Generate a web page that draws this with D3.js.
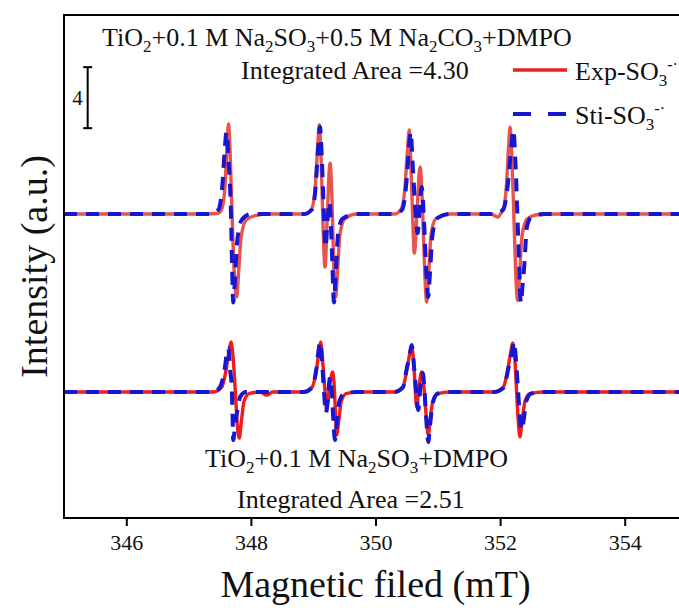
<!DOCTYPE html>
<html>
<head>
<meta charset="utf-8">
<script src="https://cdn.jsdelivr.net/npm/d3@7"></script>
<style>
  html, body { margin: 0; padding: 0; background: #fff; overflow: hidden; }
  text { font-family: 'Liberation Serif', 'Times New Roman', serif; fill: #111; }
</style>
</head>
<body>
<svg id="chart"></svg>
<script>
// [field (mT), intensity (a.u.)], each spectrum relative to its own baseline
const expTop = [
  [345.0, 0], [347.30, 0], [347.47, 0.05], [347.53, 0.3], [347.58, 1.6], [347.615, 4.3], [347.64, 5.9],
  [347.665, 4.2], [347.697, 0], [347.735, -4.0], [347.772, -5.45], [347.80, -4.0], [347.841, -1.6],
  [347.921, -0.4], [348.066, -0.1], [348.30, 0],
  [348.85, 0], [348.97, 0.3], [349.03, 1.6], [349.07, 4.3], [349.098, 5.85], [349.13, 3.2], [349.16, -1.0],
  [349.189, -3.48], [349.23, 0.3], [349.27, 3.34], [349.30, 1.2], [349.33, -3.5], [349.361, -5.45],
  [349.39, -3.8], [349.43, -1.3], [349.51, -0.3], [349.70, 0],
  [350.30, 0], [350.41, 0.3], [350.47, 1.6], [350.51, 4.0], [350.542, 5.51], [350.57, 3.0], [350.60, -0.6],
  [350.623, -2.56], [350.67, 0.4], [350.714, 3.08], [350.75, 1.0], [350.79, -3.8], [350.822, -5.77],
  [350.85, -4.2], [350.89, -1.4], [350.97, -0.3], [351.20, 0],
  [351.85, 0], [351.966, -0.2], [352.02, 0.1], [352.06, 0.4], [352.10, 1.8], [352.135, 4.3], [352.159, 5.7],
  [352.19, 3.6], [352.22, 0], [352.25, -3.8], [352.282, -5.65], [352.31, -4.2], [352.35, -1.5],
  [352.43, -0.35], [352.60, -0.05], [352.90, 0], [355.5, 0]
];
const stiTop = [
  [345.0, 0], [347.35, 0], [347.48, 0.3], [347.54, 1.8], [347.58, 4.2], [347.608, 5.38], [347.64, 3.6],
  [347.68, 0], [347.70, -3.8], [347.717, -5.8], [347.74, -4.6], [347.78, -1.8], [347.85, -0.4], [348.0, 0],
  [348.85, 0], [348.98, 0.3], [349.04, 1.8], [349.08, 4.4], [349.109, 5.7], [349.14, 3.5], [349.17, 0.2],
  [349.197, -2.2], [349.23, -0.4], [349.262, 0.8], [349.30, -2.4], [349.334, -5.8], [349.36, -4.0],
  [349.40, -1.3], [349.47, -0.3], [349.70, 0],
  [350.30, 0], [350.43, 0.3], [350.49, 1.8], [350.535, 4.2], [350.565, 5.38], [350.60, 3.0], [350.64, 0.3],
  [350.677, -1.25], [350.71, 0.6], [350.742, 1.77], [350.78, -0.6], [350.815, -3.8], [350.847, -5.44],
  [350.875, -3.8], [350.92, -1.2], [351.00, -0.25], [351.20, 0],
  [351.90, 0], [352.05, 0.3], [352.12, 1.8], [352.18, 4.4], [352.212, 5.51], [352.25, 3.0], [352.29, -1.5],
  [352.335, -5.84], [352.36, -4.7], [352.384, -3.6], [352.432, -0.8], [352.50, -0.2], [352.70, 0], [355.5, 0]
];
const expBottom = [
  [345.0, 0], [347.40, 0], [347.53, 0.3], [347.60, 1.4], [347.65, 2.7], [347.681, 3.28], [347.72, 2.0],
  [347.75, 0], [347.785, -2.3], [347.814, -3.02], [347.845, -2.0], [347.89, -0.6], [347.97, -0.1],
  [348.15, 0], [348.254, -0.2], [348.35, 0],
  [348.85, 0], [348.98, 0.3], [349.05, 1.4], [349.095, 2.7], [349.12, 3.28], [349.16, 1.6], [349.19, 0],
  [349.217, -1.18], [349.26, 0.3], [349.313, 1.31], [349.34, 0.2], [349.36, -1.6], [349.377, -2.82],
  [349.41, -1.9], [349.45, -0.6], [349.53, -0.1], [349.70, 0],
  [350.30, 0], [350.44, 0.3], [350.50, 1.4], [350.55, 2.5], [350.581, 2.95], [350.62, 1.5], [350.64, 0],
  [350.661, -0.98], [350.70, 0.4], [350.742, 1.31], [350.78, 0.2], [350.815, -1.6], [350.847, -2.82],
  [350.875, -1.9], [350.92, -0.6], [351.00, -0.1], [351.20, 0],
  [351.90, 0], [352.05, 0.3], [352.12, 1.4], [352.17, 2.6], [352.202, 3.21], [352.24, 2.0], [352.265, 0],
  [352.29, -1.8], [352.319, -2.95], [352.35, -2.0], [352.40, -0.6], [352.48, -0.1], [352.70, 0], [355.5, 0]
];
const stiBottom = [
  [345.0, 0], [347.40, 0], [347.50, 0.3], [347.584, 1.66], [347.615, 2.6], [347.637, 2.89], [347.665, 1.5],
  [347.692, 0.33], [347.705, -1.5], [347.717, -3.15], [347.745, -2.2], [347.785, -1.18], [347.83, -0.3],
  [347.92, 0], [348.35, 0],
  [348.85, 0], [348.98, 0.3], [349.05, 1.5], [349.085, 2.7], [349.109, 3.28], [349.15, 1.5], [349.18, -0.4],
  [349.205, -1.38], [349.24, -0.1], [349.27, 0.98], [349.30, 0.0], [349.325, -2.0], [349.35, -3.15],
  [349.38, -2.0], [349.42, -0.6], [349.50, -0.1], [349.70, 0],
  [350.30, 0], [350.44, 0.3], [350.50, 1.5], [350.555, 2.6], [350.581, 3.08], [350.62, 1.6], [350.655, 0],
  [350.687, -1.18], [350.72, 0.3], [350.758, 1.25], [350.79, -0.1], [350.815, -1.8], [350.847, -3.28],
  [350.875, -2.2], [350.92, -0.7], [351.00, -0.1], [351.20, 0],
  [351.90, 0], [352.06, 0.3], [352.13, 1.5], [352.195, 2.7], [352.223, 3.28], [352.26, 1.8], [352.29, 0],
  [352.32, -1.8], [352.347, -2.49], [352.38, -1.8], [352.42, -0.6], [352.50, -0.1], [352.70, 0], [355.5, 0]
];

const xTicks = [346, 348, 350, 352, 354];
const topOffset = 11.67;          // vertical shift of the upper spectrum
const scaleBar = [17.3, 21.3];    // 4 a.u. bar
const scaleBarField = 345.38;

const cfg = {
  width: 679,
  height: 608,
  left: 64,
  top: 15,
  right: 687,
  bottom: 518,
  expTopColor: '#e6544d',
  expBottomColor: '#ee1c1c',
  expLegendColor: '#e42222',
  stiColor: '#1717d2',
  font: "'Liberation Serif', 'Times New Roman', serif",
};

const svg = d3.select('#chart')
  .attr('width', cfg.width)
  .attr('height', cfg.height);

// scales
const x = d3.scaleLinear().domain([345, 355]).range([cfg.left, cfg.right]);
const y = d3.scaleLinear().domain([-8.26, 24.72]).range([cfg.bottom, cfg.top]);

svg.append('clipPath')
  .attr('id', 'plotClip')
  .append('rect')
  .attr('x', cfg.left)
  .attr('y', cfg.top)
  .attr('width', cfg.right - cfg.left)
  .attr('height', cfg.bottom - cfg.top);

const line = offset => d3.line()
  .x(d => x(d[0]))
  .y(d => y(d[1] + offset))
  .curve(d3.curveMonotoneX);

const plot = svg.append('g').attr('clip-path', 'url(#plotClip)');

// experimental (solid red) under simulated (dashed blue)
const series = [
  { data: expTop, offset: topOffset, color: cfg.expTopColor, dash: null, w: 3.4 },
  { data: expBottom, offset: 0, color: cfg.expBottomColor, dash: null, w: 3.4 },
  { data: stiTop, offset: topOffset, color: cfg.stiColor, dash: '13,9', w: 4 },
  { data: stiBottom, offset: 0, color: cfg.stiColor, dash: '13,9', w: 4 },
];
series.forEach(s => {
  plot.append('path')
    .datum(s.data)
    .attr('d', line(s.offset))
    .attr('fill', 'none')
    .attr('stroke', s.color)
    .attr('stroke-width', s.w)
    .attr('stroke-dasharray', s.dash)
    .attr('stroke-linejoin', 'round');
});

// frame
svg.append('rect')
  .attr('x', cfg.left)
  .attr('y', cfg.top)
  .attr('width', cfg.right - cfg.left)
  .attr('height', cfg.bottom - cfg.top)
  .attr('fill', 'none')
  .attr('stroke', '#000')
  .attr('stroke-width', 2);

// bottom axis
const xAxis = svg.append('g')
  .attr('transform', 'translate(0,' + cfg.bottom + ')')
  .call(d3.axisBottom(x).tickValues(xTicks).tickSize(8).tickPadding(8).tickFormat(d3.format('d')));
xAxis.select('.domain').remove();
xAxis.selectAll('.tick line').attr('stroke', '#000').attr('stroke-width', 2);
xAxis.selectAll('.tick text')
  .style('font-family', cfg.font)
  .style('font-size', '22px')
  .attr('fill', '#111');

// axis titles
svg.append('text')
  .attr('x', (cfg.left + cfg.right) / 2)
  .attr('y', 597)
  .attr('text-anchor', 'middle')
  .style('font-size', '38px')
  .text('Magnetic filed (mT)');

svg.append('text')
  .attr('transform', 'translate(47,' + (cfg.top + cfg.bottom) / 2 + ') rotate(-90)')
  .attr('text-anchor', 'middle')
  .style('font-size', '38px')
  .text('Intensity (a.u.)');

// scale bar
const bx = x(scaleBarField);
svg.append('line')
  .attr('x1', bx).attr('x2', bx)
  .attr('y1', y(scaleBar[0])).attr('y2', y(scaleBar[1]))
  .attr('stroke', '#000').attr('stroke-width', 2);
scaleBar.forEach(v => {
  svg.append('line')
    .attr('x1', bx - 4.5).attr('x2', bx + 4.5)
    .attr('y1', y(v)).attr('y2', y(v))
    .attr('stroke', '#000').attr('stroke-width', 2);
});
svg.append('text')
  .attr('x', bx - 5)
  .attr('y', (y(scaleBar[0]) + y(scaleBar[1])) / 2 + 7)
  .attr('text-anchor', 'end')
  .style('font-size', '21px')
  .text('4');

// chemical labels with sub/superscripts
function chem(parent, px, py, parts, size) {
  const t = parent.append('text')
    .attr('x', px)
    .attr('y', py)
    .style('font-size', size + 'px');
  parts.forEach(p => {
    const span = t.append('tspan').text(p[0]);
    if (p[1] === 'sub') {
      span.style('font-size', Math.round(size * 0.65) + 'px').attr('dy', size * 0.22);
    } else if (p[1] === 'sup') {
      span.style('font-size', Math.round(size * 0.6) + 'px').attr('dy', -size * 0.62);
    } else if (p[1] === 'back') {
      span.attr('dy', -size * 0.22);
    }
  });
  return t;
}

chem(svg, 102, 46, [
  ['TiO'], ['2', 'sub'], ['+0.1 M Na', 'back'], ['2', 'sub'], ['SO', 'back'], ['3', 'sub'],
  ['+0.5 M Na', 'back'], ['2', 'sub'], ['CO', 'back'], ['3', 'sub'], ['+DMPO', 'back']
], 26);
svg.append('text').attr('x', 241).attr('y', 79).style('font-size', '26px').text('Integrated Area =4.30');

chem(svg, 205, 467, [
  ['TiO'], ['2', 'sub'], ['+0.1 M Na', 'back'], ['2', 'sub'], ['SO', 'back'], ['3', 'sub'], ['+DMPO', 'back']
], 26);
svg.append('text').attr('x', 237).attr('y', 508).style('font-size', '26px').text('Integrated Area =2.51');

// legend
const legend = [
  { name: 'Exp', y: 70, color: cfg.expLegendColor, dash: null, w: 3.4 },
  { name: 'Sti', y: 114, color: cfg.stiColor, dash: '18,17', w: 4 },
];
legend.forEach(l => {
  svg.append('line')
    .attr('x1', 513).attr('x2', 567)
    .attr('y1', l.y).attr('y2', l.y)
    .attr('stroke', l.color)
    .attr('stroke-width', l.w)
    .attr('stroke-dasharray', l.dash);
  chem(svg, 575, l.y + 10, [
    [l.name + '-SO'], ['3', 'sub'], ['-\u00b7', 'sup']
  ], 26);
});
</script>
</body>
</html>
